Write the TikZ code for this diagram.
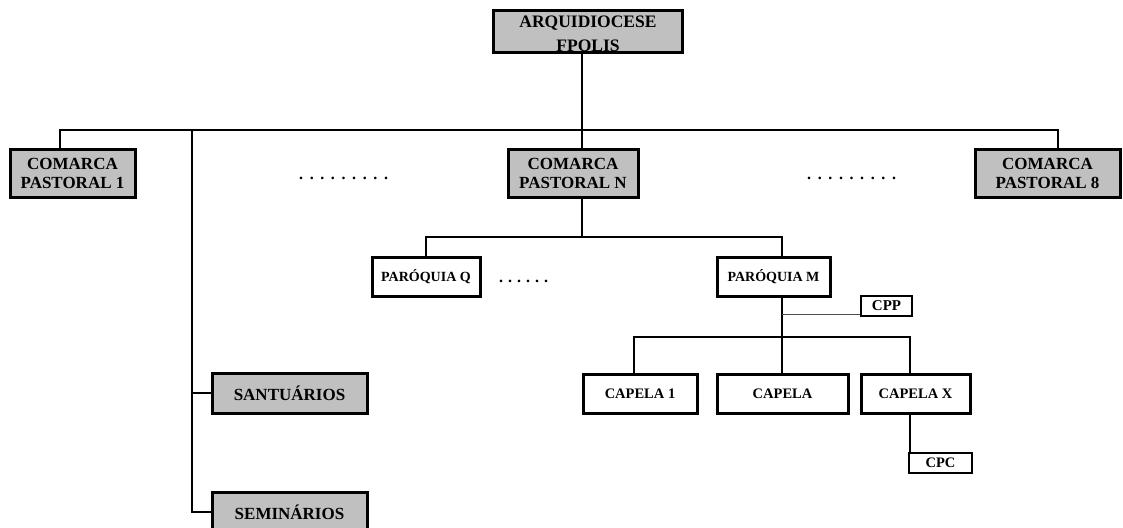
\documentclass[tikz,border=0pt]{standalone}
\usepackage{fontspec}
\setmainfont{Liberation Serif}
\definecolor{boxgray}{HTML}{C0C0C0}
\newcommand\spacedots[2]{\foreach \i in {1,...,#1}{.\kern#2}}
\begin{document}
\begin{tikzpicture}[x=1pt,y=-1pt,
  box/.style={draw=black,line width=3pt,inner sep=0pt,align=center,font=\bfseries},
  graybox/.style={box,fill=boxgray},
  wire/.style={line width=2pt},
  thinwire/.style={line width=0.8pt,draw=black!70},
  dots/.style={font=\bfseries\fontsize{16}{16}\selectfont,anchor=base west,inner sep=0pt}
]
\useasboundingbox (0,0) rectangle (1123,527);
% top box: fill, text, then border over the text
\node[fill=boxgray,inner sep=0pt,minimum width=188pt,minimum height=41pt] (arq) at (588,31.5) {};
\node[font=\bfseries\fontsize{17.5}{24}\selectfont,align=center] (arqt) at (588,33.5) {ARQUIDIOCESE\\FPOLIS};
\draw[line width=3pt] (arq.north west) rectangle (arq.south east);
% boxes
\node[graybox,minimum width=125pt,minimum height=48pt,font=\bfseries\fontsize{17}{19}\selectfont] (c1) at (72.5,173) {COMARCA\\PASTORAL 1};
\node[graybox,minimum width=130pt,minimum height=48pt,font=\bfseries\fontsize{17}{19}\selectfont] (cn) at (573,173) {COMARCA\\PASTORAL N};
\node[graybox,minimum width=145pt,minimum height=48pt,font=\bfseries\fontsize{17}{19}\selectfont] (c8) at (1047.5,173) {COMARCA\\PASTORAL 8};
\node[dots] (d1) at (299,179) {\spacedots{9}{6.6pt}};
\node[dots] (d2) at (807,179) {\spacedots{9}{6.6pt}};
\node[box,fill=white,minimum width=108pt,minimum height=39pt,font=\bfseries\fontsize{14}{16}\selectfont] (pq) at (426,276.5) {PARÓQUIA Q};
\node[dots] (d3) at (499,282) {\spacedots{6}{5pt}};
\node[box,fill=white,minimum width=113pt,minimum height=39pt,font=\bfseries\fontsize{14}{16}\selectfont] (pm) at (773.5,276.5) {PARÓQUIA M};
\node[box,fill=white,minimum width=51pt,minimum height=20pt,line width=2.5pt,font=\bfseries\fontsize{15}{16}\selectfont] (cpp) at (886.5,306) {CPP};
\node[box,fill=white,minimum width=114pt,minimum height=39pt,font=\bfseries\fontsize{14.5}{16}\selectfont] (cap1) at (640,393.5) {CAPELA 1};
\node[box,fill=white,minimum width=131pt,minimum height=39pt,font=\bfseries\fontsize{14.5}{16}\selectfont] (cap) at (782.5,393.5) {CAPELA};
\node[box,fill=white,minimum width=109pt,minimum height=39pt,font=\bfseries\fontsize{14.5}{16}\selectfont] (capx) at (915.5,393.5) {CAPELA X};
\node[box,fill=white,minimum width=63pt,minimum height=20pt,line width=2.5pt,font=\bfseries\fontsize{14.5}{16}\selectfont] (cpc) at (940.5,463) {CPC};
\node[graybox,minimum width=155pt,minimum height=40pt,font=\bfseries\fontsize{17}{19}\selectfont] (san) at (289.5,393) {SANTUÁRIOS};
\node[graybox,minimum width=155pt,minimum height=40pt,font=\bfseries\fontsize{17}{19}\selectfont] (sem) at (289.5,512) {SEMINÁRIOS};
% junctions
\coordinate (top) at (582,130);
\coordinate (hl) at (60,130);
\coordinate (hr) at (1058,130);
\coordinate (vl) at (192,130);
\coordinate (jn) at (582,237);
\coordinate (jq) at (426,237);
\coordinate (jm) at (782,237);
\coordinate (jcpp) at (782,314);
\coordinate (jc) at (782,337);
\coordinate (jc1) at (634,337);
\coordinate (jcx) at (910,337);
\coordinate (js) at (192,393);
\coordinate (jsem) at (192,512);
% connectors
\draw[wire] (arq.south -| top) -- (top);
\draw[wire] (hl |- c1.north) -- (hl) -- (hr) -- (hr |- c8.north);
\draw[wire] (top) -- (top |- cn.north);
\draw[wire] (vl) -- (jsem) -- (sem.west);
\draw[wire] (js) -- (san.west);
\draw[wire] (cn.south -| jn) -- (jn);
\draw[wire] (jq |- pq.north) -- (jq) -- (jm) -- (jm |- pm.north);
\draw[wire] (pm.south -| jc) -- (jc);
\draw[thinwire] (jcpp) -- (jcpp -| cpp.west);
\draw[wire] (jc1 |- cap1.north) -- (jc1) -- (jcx) -- (jcx |- capx.north);
\draw[wire] (jc) -- (jc |- cap.north);
\draw[wire] (capx.south -| jcx) -- (jcx |- cpc.north);
\end{tikzpicture}
\end{document}
